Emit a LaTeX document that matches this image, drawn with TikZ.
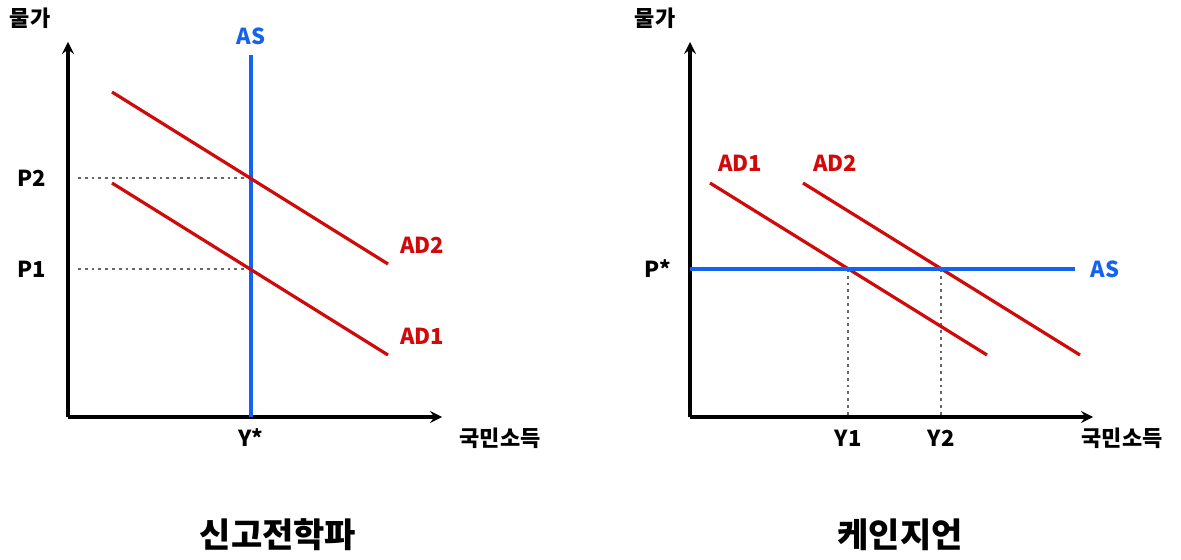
\documentclass[tikz,border=0pt]{standalone}
\usepackage{fontspec}
\setmainfont{Noto Sans CJK KR}
\usepackage{tikz}
\definecolor{adred}{HTML}{D00A0A}
\definecolor{asblue}{HTML}{1463F0}
\tikzset{
  axis/.style={black, line width=1.6pt, ->, >=stealth},
  adline/.style={adred, line width=1.6pt},
  asline/.style={asblue, line width=1.6pt},
  guide/.style={gray!80!black, line width=1.4pt, dotted},
  lbl/.style={font=\bfseries\fontsize{11}{13}\selectfont},
}
\begin{document}
\begin{tikzpicture}[x=0.5pt, y=-0.5pt]
      \useasboundingbox (0,0) rectangle (1181,560);
      % left: neoclassical
      \coordinate (o1) at (68,417);
      \draw[axis] (o1) -- (68,42);
      \draw[axis] (o1) -- (442,417);
      \draw[guide] (78,178) -- (251,178);
      \draw[guide] (78,269) -- (251,269);
      \draw[asline] (251,55) -- (251,417);
      \draw[adline] (112,92) -- (388,264);
      \draw[adline] (112,183) -- (388,355);
      \node[lbl] (pa) at (30,18) {물가};
      \node[lbl,asblue] (as1) at (251,36) {AS};
      \node[lbl] (p2) at (32,178) {P2};
      \node[lbl] (p1) at (32,269) {P1};
      \node[lbl,adred] (ad2a) at (422,245) {AD2};
      \node[lbl,adred] (ad1a) at (422,336) {AD1};
      \node[lbl] (ys) at (251,438) {Y*};
      \node[lbl] (ya) at (500,438) {국민소득};
      \node[font=\bfseries\fontsize{17}{20}\selectfont] (t1) at (278,535) {신고전학파};
      % right: keynesian
      \coordinate (o2) at (690,417);
      \draw[axis] (o2) -- (690,42);
      \draw[axis] (o2) -- (1093,417);
      \draw[guide] (848,269) -- (848,417);
      \draw[guide] (941,269) -- (941,417);
      \draw[adline] (710,183) -- (987,355);
      \draw[adline] (803,183) -- (1080,355);
      \draw[asline] (690,269) -- (1075,269);
      \node[lbl] (pb) at (655,18) {물가};
      \node[lbl,asblue] (as2) at (1105,269) {AS};
      \node[lbl] (ps) at (658,269) {P*};
      \node[lbl,adred] (ad1b) at (740,163) {AD1};
      \node[lbl,adred] (ad2b) at (835,163) {AD2};
      \node[lbl] (y1) at (848,438) {Y1};
      \node[lbl] (y2) at (941,438) {Y2};
      \node[lbl] (yb) at (1122,438) {국민소득};
      \node[font=\bfseries\fontsize{17}{20}\selectfont] (t2) at (900,535) {케인지언};
\end{tikzpicture}
\end{document}
